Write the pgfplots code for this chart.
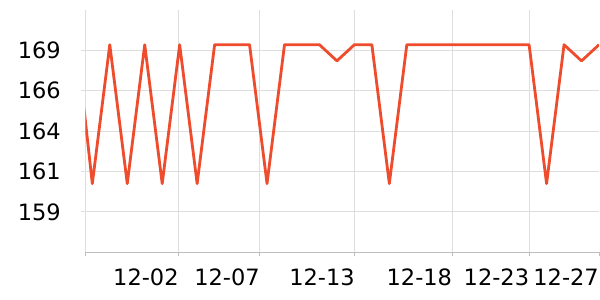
\documentclass[border=0pt]{standalone}
\usepackage{pgfplots}
\pgfplotsset{compat=1.18}
\usepackage{fontspec}
\setmainfont{DejaVu Sans}
\definecolor{lineC}{RGB}{238,76,44}
\definecolor{gridC}{RGB}{222,222,222}
\definecolor{axisC}{RGB}{190,190,190}
\begin{document}
\begin{tikzpicture}[x=1pt,y=1pt]
\begin{axis}[
  at={(85.5pt,47.7pt)}, anchor=south west,
  scale only axis, width=513.5pt, height=242.3pt,
  xmin=-0.39, xmax=29, ymin=156.25, ymax=171.25,
  axis x line*=bottom, axis y line*=left,
  x axis line style={axisC, line width=0.9pt, -},
  y axis line style={gridC, line width=0.9pt, -},
  xtick={-0.39,4.95,9.59,15.03,20.60,25.01},
  xticklabels={,12-02,12-07,12-13,12-18,12-23},
  extra x ticks={29},
  extra x tick labels={12-27},
  extra x tick style={grid=none},
  ytick={158.75,161.25,163.75,166.25,168.75},
  yticklabels={159,161,164,166,169},
  grid=major, major grid style={gridC, line width=0.9pt},
  tick align=outside, major tick length=4pt,
  xtick style={axisC, line width=0.9pt},
  ytick style={gridC, line width=0.9pt},
  tick label style={font=\fontsize{22.5}{26}\selectfont, black, inner sep=0pt},
  xticklabel style={anchor=north east, yshift=-12pt},
  yticklabel style={anchor=east, xshift=-20.5pt},
  clip=true,
]
\addplot[lineC, line width=2.8pt, line join=round] coordinates {
(-1,170.3) (0,160.5) (1,169.1) (2,160.5) (3,169.1) (4,160.5) (5,169.1) (6,160.5)
(7,169.1) (8,169.1) (9,169.1) (10,160.5) (11,169.1) (12,169.1) (13,169.1) (14,168.1)
(15,169.1) (16,169.1) (17,160.5) (18,169.1) (19,169.1) (20,169.1) (21,169.1) (22,169.1)
(23,169.1) (24,169.1) (25,169.1) (26,160.5) (27,169.1) (28,168.1) (29,169.1)
};
\end{axis}
\pgfresetboundingbox
\useasboundingbox (0,0) rectangle (600,300);
\end{tikzpicture}
\end{document}
